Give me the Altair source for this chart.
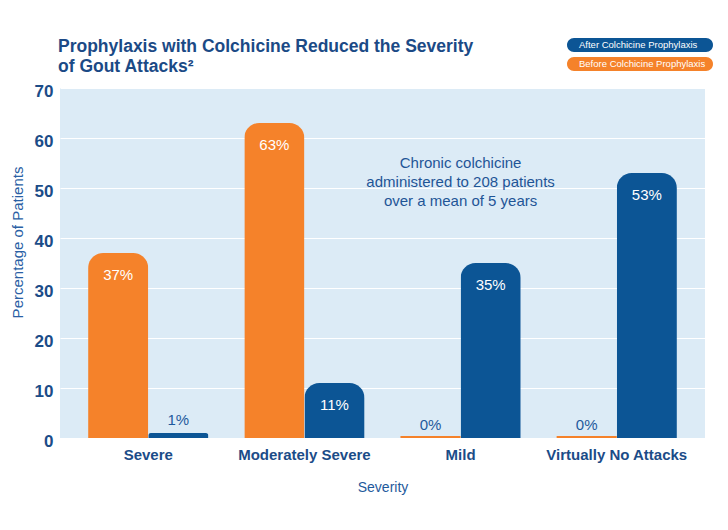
import altair as alt
import pandas as pd

categories = ["Severe", "Moderately Severe", "Mild", "Virtually No Attacks"]
before_vals = [37, 63, 0, 0]
after_vals = [1, 11, 35, 53]
series_names = ["After Colchicine Prophylaxis", "Before Colchicine Prophylaxis"]
y_ticks = [0, 10, 20, 30, 40, 50, 60, 70]
note_lines = ["Chronic colchicine", "administered to 208 patients", "over a mean of 5 years"]
note_cat = "Mild"
note_y = 55

BLUE = "#0C5595"
ORANGE = "#F5822A"
NAVY = "#1B4C88"

rows = []
for c, b, a in zip(categories, before_vals, after_vals):
    rows.append({"cat": c, "series": series_names[1], "value": b, "label": f"{b}%"})
    rows.append({"cat": c, "series": series_names[0], "value": a, "label": f"{a}%"})
df = pd.DataFrame(rows)
note_df = pd.DataFrame({"cat": [note_cat], "y": [note_y], "txt": [note_lines]})

FONT = "Liberation Sans"
pill = "M0.4,-1.4L26.8,-1.4A1.4,1.4,0,0,1,26.8,1.4L0.4,1.4A1.4,1.4,0,0,1,0.4,-1.4Z"

x_enc = alt.X(
    "cat:N",
    sort=categories,
    scale=alt.Scale(paddingInner=0.23, paddingOuter=0.18),
    axis=alt.Axis(
        title="Severity",
        labelAngle=0,
        labelFont=FONT,
        labelFontSize=15,
        labelFontWeight="bold",
        labelColor=NAVY,
        labelPadding=9,
        titleFont=FONT,
        titleFontSize=14,
        titleFontWeight="normal",
        titleColor="#1F5A9C",
        titlePadding=18,
        ticks=False,
        domain=False,
        grid=False,
    ),
)
y_scale = alt.Scale(domain=[0, 70], nice=False)
xoff = alt.XOffset("series:N", sort=[series_names[1], series_names[0]],
                   scale=alt.Scale(paddingInner=0, paddingOuter=0))

bars = alt.Chart(df).mark_bar(
    cornerRadiusTopLeft=15, cornerRadiusTopRight=15
).encode(
    x=x_enc,
    xOffset=xoff,
    y=alt.Y(
        "value:Q",
        scale=y_scale,
        axis=alt.Axis(
            values=y_ticks,
            title="Percentage of Patients",
            labelFont=FONT,
            labelFontSize=17,
            labelFontWeight="bold",
            labelColor=NAVY,
            labelPadding=7,
            labelOffset=3,
            titleFont=FONT,
            titleFontSize=15,
            titleFontWeight="normal",
            titleColor="#2A60A4",
            titleX=-43,
            titleY=154,
            titleBaseline="middle",
            ticks=False,
            domain=False,
            grid=True,
            gridColor="#FFFFFF",
            gridWidth=1,
        ),
    ),
    color=alt.Color(
        "series:N",
        scale=alt.Scale(domain=series_names, range=[BLUE, ORANGE]),
        legend=alt.Legend(
            title=None,
            orient="none",
            legendX=507,
            legendY=-48,
            symbolType=pill,
            symbolSize=100,
            symbolStrokeWidth=0,
            symbolOpacity=1,
            labelColor="white",
            labelFont=FONT,
            labelFontSize=9.5,
            labelOffset=2,
            labelBaseline="middle",
            rowPadding=5,
            padding=0,
        ),
    ),
)

zero_line = alt.Chart(df).transform_filter(alt.datum.value == 0).mark_bar(color=ORANGE).encode(
    x=alt.X("cat:N", sort=categories),
    xOffset=xoff,
    y=alt.Y("value:Q", scale=y_scale),
    y2=alt.datum(0.4),
)

inside = alt.Chart(df).transform_filter(alt.datum.value >= 10).mark_text(
    font=FONT, fontSize=15, color="#FFFFFF", dy=22
).encode(x=alt.X("cat:N", sort=categories), xOffset=xoff, y=alt.Y("value:Q", scale=y_scale), text="label:N")

above = alt.Chart(df).transform_filter(alt.datum.value < 10).mark_text(
    font=FONT, fontSize=15, color="#1F5A9C", dy=-13
).encode(x=alt.X("cat:N", sort=categories), xOffset=xoff, y=alt.Y("value:Q", scale=y_scale), text="label:N")

note = alt.Chart(note_df).mark_text(
    font=FONT, fontSize=15, color="#1F5596", lineHeight=19
).encode(x=alt.X("cat:N", sort=categories), y=alt.Y("y:Q", scale=y_scale), text="txt")

chart = alt.layer(bars, zero_line, inside, above, note).properties(
    width=645,
    height=350,
    padding={"left": 60, "top": 88, "right": 23, "bottom": 92},
    autosize=alt.AutoSizeParams(type="none"),
    background="#FFFFFF",
    title=alt.TitleParams(
        text=["Prophylaxis with Colchicine Reduced the Severity", "of Gout Attacks²"],
        anchor="start",
        frame="group",
        font=FONT,
        fontSize=17.5,
        fontWeight="bold",
        color="#1B4A86",
        lineHeight=20,
        offset=-35,
        dx=-2,
    ),
).configure_view(
    fill="#DCEBF6", stroke=None
)

chart.save("out.html", embed_options={"renderer": "svg", "actions": False})
